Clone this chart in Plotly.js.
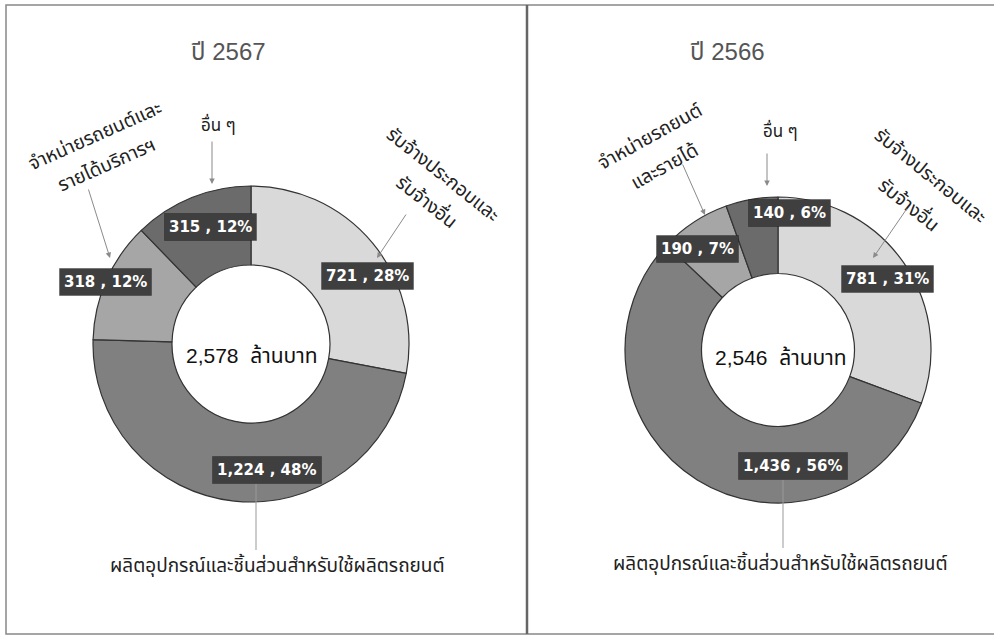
<!DOCTYPE html>
<html>
<head>
<meta charset="utf-8">
<script src="https://cdn.plot.ly/plotly-3.0.1.min.js"></script>
<style>
html,body{margin:0;padding:0;background:#fff;}
#chart{width:994px;height:637px;}
</style>
</head>
<body>
<div id="chart"></div>
<script>
// ---- data ----
const categories = [
  "รับจ้างประกอบและรับจ้างอื่น",
  "ผลิตอุปกรณ์และชิ้นส่วนสำหรับใช้ผลิตรถยนต์",
  "จำหน่ายรถยนต์และรายได้บริการฯ",
  "อื่น ๆ"
];
const values2567 = [721, 1224, 318, 315];
const pct2567 = [28, 48, 12, 12];
const values2566 = [781, 1436, 190, 140];
const pct2566 = [31, 56, 7, 6];
const total2567 = "2,578";
const total2566 = "2,546";
const title2567 = "ปี 2567";
const title2566 = "ปี 2566";
const sliceColors = ["#d9d9d9", "#808080", "#a6a6a6", "#6b6b6b"];

const W = 994, H = 637;
const px = x => x / W;
const py = y => 1 - y / H;
const thaiFont = "Tahoma, 'Noto Sans Thai', 'Noto Sans', 'DejaVu Sans', sans-serif";
const arialThai = "Arial, 'Liberation Sans', 'Noto Sans Thai', 'Noto Sans', sans-serif";
const fmt = v => v.toLocaleString('en-US');

function pieTrace(vals, x0, x1, y0, y1) {
  return {
    type: 'pie',
    values: vals,
    labels: categories,
    sort: false,
    direction: 'clockwise',
    rotation: 0,
    hole: 0.5,
    textinfo: 'none',
    hoverinfo: 'label+value',
    marker: {colors: sliceColors, line: {color: '#333', width: 1.2}},
    domain: {x: [px(x0), px(x1)], y: [py(y1), py(y0)]},
    showlegend: false
  };
}

const data = [
  pieTrace(values2567, 93, 409, 186, 502),
  pieTrace(values2566, 625, 931, 197, 503)
];

const ann = [];
function txt(text, x, y, opts) {
  ann.push(Object.assign({
    text: text, x: px(x), y: py(y), xref: 'paper', yref: 'paper',
    showarrow: false, xanchor: 'center', yanchor: 'middle',
    font: {family: thaiFont, size: 19, color: '#222'}
  }, opts || {}));
}
function arrow(tx, ty, hx, hy) {
  ann.push({
    text: '', x: px(hx), y: py(hy), xref: 'paper', yref: 'paper',
    ax: tx - hx, ay: ty - hy, showarrow: true,
    arrowhead: 2, arrowsize: 1.1, arrowwidth: 1, arrowcolor: '#8a8a8a'
  });
}
function box(vals, pcts, i, x, y) {
  const label = fmt(vals[i]) + " , " + pcts[i] + "%";
  txt(label, x, y, {
    bgcolor: '#3f3f3f', borderpad: 4,
    bordercolor: 'rgba(0,0,0,0.25)', borderwidth: 1,
    font: {family: "'DejaVu Sans', Verdana, sans-serif", size: 15, color: '#fff', weight: 'bold'}
  });
}

// titles
txt(title2567, 228, 52, {font: {family: arialThai, size: 24, color: '#555'}});
txt(title2566, 727, 52, {font: {family: arialThai, size: 24, color: '#555'}});

// centre totals
txt(total2567 + "  ล้านบาท", 252, 355, {font: {family: arialThai, size: 21, color: '#111'}});
txt(total2566 + "  ล้านบาท", 781, 357, {font: {family: arialThai, size: 21, color: '#111'}});

// value boxes - 2567
box(values2567, pct2567, 3, 210, 227);
box(values2567, pct2567, 2, 105, 282);
box(values2567, pct2567, 0, 367, 276);
box(values2567, pct2567, 1, 267, 470);
// value boxes - 2566
box(values2566, pct2566, 3, 789, 213);
box(values2566, pct2566, 2, 697, 249);
box(values2566, pct2566, 0, 887, 279);
box(values2566, pct2566, 1, 793, 466);

// category labels 2567
txt("อื่น ๆ", 218, 126, {font: {family: thaiFont, size: 17, color: '#222'}});
txt("จำหน่ายรถยนต์และ", 95, 137, {textangle: -24});
txt("รายได้บริการฯ", 107, 166, {textangle: -24});
txt("รับจ้างประกอบและ", 443, 175, {textangle: 38.5});
txt("รับจ้างอื่น", 426, 202, {textangle: 38.5});
txt(categories[1], 277, 565, {font: {family: arialThai, size: 19, color: '#222'}});
// category labels 2566
txt("อื่น ๆ", 780, 132, {font: {family: thaiFont, size: 17, color: '#222'}});
txt("จำหน่ายรถยนต์", 650, 138, {textangle: -29});
txt("และรายได้", 664, 167, {textangle: -29});
txt("รับจ้างประกอบและ", 930, 177, {textangle: 39});
txt("รับจ้างอื่น", 908, 205, {textangle: 39});
txt(categories[1], 780, 563, {font: {family: arialThai, size: 19, color: '#222'}});

// arrows
arrow(212, 140, 212, 184);
arrow(88, 188, 110, 258);
arrow(407, 213, 377, 258);
arrow(767, 152, 767, 186);
arrow(682, 163, 705, 215);
arrow(908, 207, 873, 258);

const shapes = [
  {type: 'rect', xref: 'paper', yref: 'paper', x0: px(6), x1: px(1000), y0: py(634), y1: py(5),
   line: {color: '#888', width: 1.5}},
  {type: 'line', xref: 'paper', yref: 'paper', x0: px(527), x1: px(527), y0: py(634), y1: py(5),
   line: {color: '#666', width: 2.5}},
  {type: 'line', xref: 'paper', yref: 'paper', x0: px(256), x1: px(256), y0: py(484), y1: py(550),
   line: {color: '#999', width: 1}},
  {type: 'line', xref: 'paper', yref: 'paper', x0: px(783), x1: px(783), y0: py(480), y1: py(548),
   line: {color: '#999', width: 1}}
];

const layout = {
  width: W, height: H,
  margin: {l: 0, r: 0, t: 0, b: 0},
  paper_bgcolor: '#fff',
  plot_bgcolor: '#fff',
  showlegend: false,
  annotations: ann,
  shapes: shapes
};

Plotly.newPlot('chart', data, layout, {displayModeBar: false, staticPlot: true});
</script>
</body>
</html>
